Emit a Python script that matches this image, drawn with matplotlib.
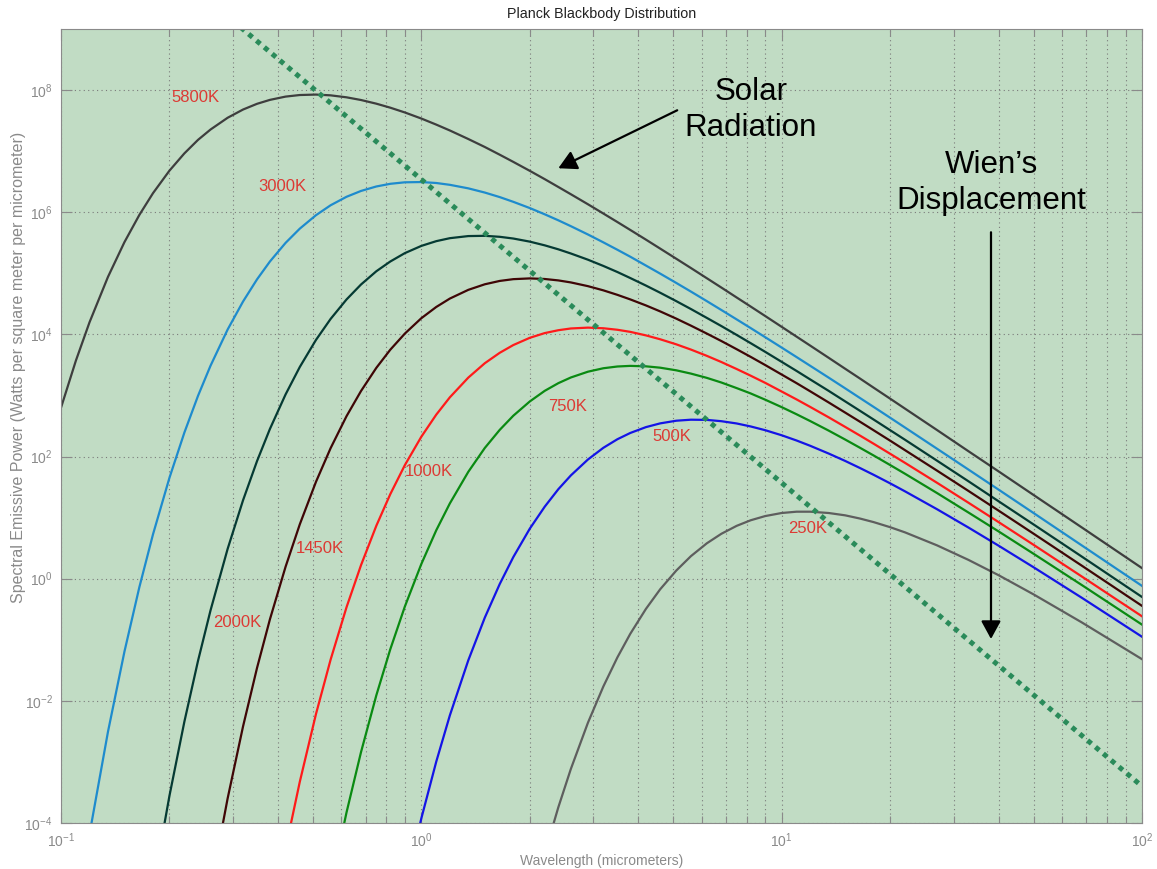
import numpy as np
import matplotlib
matplotlib.use('Agg')
import matplotlib.pyplot as plt

plt.rcParams['font.family'] = ['Liberation Sans', 'DejaVu Sans']
plt.rcParams['mathtext.default'] = 'regular'

# wavelength grid (micrometers)
wavelength = [0.10, 0.11, 0.12, 0.135, 0.15, 0.165, 0.18, 0.20, 0.22, 0.24,
              0.26, 0.29, 0.32, 0.35, 0.38, 0.42, 0.46, 0.51, 0.56, 0.62,
              0.68, 0.75, 0.82, 0.9, 1.0, 1.1, 1.2, 1.35, 1.5, 1.65,
              1.8, 2.0, 2.2, 2.4, 2.6, 2.9, 3.2, 3.5, 3.8, 4.2,
              4.6, 5.1, 5.6, 6.2, 6.8, 7.5, 8.2, 9.0, 10, 11,
              12, 13.5, 15, 16.5, 18, 20, 22, 27, 33, 40,
              50, 68, 100]

nan = np.nan
# spectral emissive power (W / m^2 / um)
power_5800 = [630, 3.73e3, 1.58e4, 8.73e4, 3.24e5, 9.04e5, 2.05e6, 4.80e6, 9.20e6, 1.53e7,
              2.26e7, 3.52e7, 4.80e7, 5.96e7, 6.91e7, 7.82e7, 8.30e7, 8.44e7, 8.20e7, 7.61e7,
              6.88e7, 5.99e7, 5.15e7, 4.30e7, 3.42e7, 2.72e7, 2.18e7, 1.58e7, 1.17e7, 8.75e6,
              6.67e6, 4.76e6, 3.48e6, 2.59e6, 1.97e6, 1.35e6, 9.52e5, 6.91e5, 5.13e5, 3.56e5,
              2.54e5, 1.73e5, 1.22e5, 8.30e4, 5.85e4, 4.02e4, 2.86e4, 2.00e4, 1.33e4, 9.18e3,
              6.55e3, 4.14e3, 2.74e3, 1.89e3, 1.34e3, 886, 608, 271, 122, 57.1,
              23.5, 6.93, 1.49]
power_3000 = [nan, nan, 6.6e-5, 3.11e-3, 6.41e-2, 0.728, 5.31, 45.0, 247, 985,
              3.07e3, 1.20e4, 3.45e4, 7.97e4, 1.56e5, 3.15e5, 5.39e5, 8.94e5, 1.30e6, 1.79e6,
              2.23e6, 2.64e6, 2.92e6, 3.09e6, 3.12e6, 3.01e6, 2.81e6, 2.46e6, 2.10e6, 1.77e6,
              1.48e6, 1.17e6, 9.25e5, 7.37e5, 5.91e5, 4.32e5, 3.21e5, 2.43e5, 1.87e5, 1.34e5,
              9.89e4, 6.95e4, 5.02e4, 3.50e4, 2.51e4, 1.76e4, 1.27e4, 9.00e3, 6.08e3, 4.25e3,
              3.06e3, 1.96e3, 1.31e3, 907, 649, 432, 298, 134, 61.1, 28.7,
              11.9, 3.52, 0.762]
power_2000 = [nan, nan, nan, nan, nan, nan, 8.7e-6, 2.80e-4, 4.57e-3, 4.51e-2,
              0.303, 3.07, 19.2, 84.4, 283, 1.04e3, 2.93e3, 8.11e3, 1.79e4, 3.73e4,
              6.55e4, 1.08e5, 1.56e5, 2.14e5, 2.81e5, 3.36e5, 3.76e5, 4.07e5, 4.11e5, 3.96e5,
              3.71e5, 3.30e5, 2.87e5, 2.47e5, 2.11e5, 1.67e5, 1.32e5, 1.05e5, 8.37e4, 6.30e4,
              4.81e4, 3.50e4, 2.60e4, 1.86e4, 1.37e4, 9.80e3, 7.19e3, 5.18e3, 3.55e3, 2.52e3,
              1.83e3, 1.19e3, 801, 560, 403, 270, 188, 85.4, 39.3, 18.5,
              7.74, 2.31, 0.502]
power_1450 = [nan, nan, nan, nan, nan, nan, nan, nan, nan, nan,
              8.4e-6, 2.52e-4, 3.80e-3, 3.47e-2, 0.216, 1.57, 7.78, 38.5, 137, 458,
              1.18e3, 2.83e3, 5.61e3, 1.03e4, 1.84e4, 2.81e4, 3.86e4, 5.36e4, 6.61e4, 7.50e4,
              8.02e4, 8.25e4, 8.07e4, 7.65e4, 7.09e4, 6.16e4, 5.26e4, 4.44e4, 3.74e4, 2.98e4,
              2.38e4, 1.81e4, 1.39e4, 1.03e4, 7.79e3, 5.72e3, 4.29e3, 3.15e3, 2.20e3, 1.59e3,
              1.17e3, 769, 525, 371, 269, 182, 127, 58.7, 27.3, 13.0,
              5.46, 1.64, 0.359]
power_1000 = [nan, nan, nan, nan, nan, nan, nan, nan, nan, nan,
              nan, nan, nan, nan, nan, 3.80e-5, 4.74e-4, 6.07e-3, 4.72e-2, 0.341,
              1.66, 7.35, 24.2, 72.3, 211, 485, 933, 1.96e3, 3.37e3, 4.99e3,
              6.69e3, 8.79e3, 1.05e4, 1.17e4, 1.25e4, 1.29e4, 1.26e4, 1.19e4, 1.10e4, 9.63e3,
              8.32e3, 6.87e3, 5.64e3, 4.45e3, 3.53e3, 2.71e3, 2.11e3, 1.61e3, 1.16e3, 861,
              649, 439, 306, 220, 162, 111, 78.7, 37.1, 17.5, 8.44,
              3.59, 1.09, 0.242]
power_750 = [nan, nan, nan, nan, nan, nan, nan, nan, nan, nan,
             nan, nan, nan, nan, nan, nan, nan, nan, 9.0e-6, 1.49e-4,
             1.44e-3, 1.23e-2, 6.98e-2, 0.350, 1.74, 6.20, 17.1, 56.2, 138, 273,
             466, 798, 1.19e3, 1.59e3, 1.97e3, 2.45e3, 2.79e3, 2.98e3, 3.05e3, 3.00e3,
             2.85e3, 2.58e3, 2.28e3, 1.94e3, 1.63e3, 1.32e3, 1.08e3, 853, 644, 492,
             381, 266, 190, 139, 104, 72.6, 52.2, 25.2, 12.1, 5.94,
             2.56, 0.790, 0.177]
power_500 = [nan, nan, nan, nan, nan, nan, nan, nan, nan, nan,
             nan, nan, nan, nan, nan, nan, nan, nan, nan, nan,
             nan, nan, nan, 8.2e-6, 1.19e-4, 1.01e-3, 5.79e-3, 4.61e-2, 0.230, 0.816,
             2.26, 6.60, 15.1, 29.2, 49.1, 89.5, 139, 192, 243, 303,
             349, 386, 401, 398, 379, 348, 311, 270, 223, 183,
             150, 112, 84.8, 64.8, 50.2, 36.4, 26.9, 13.7, 6.87, 3.47,
             1.54, 0.489, 0.112]
power_250 = [nan, nan, nan, nan, nan, nan, nan, nan, nan, nan,
             nan, nan, nan, nan, nan, nan, nan, nan, nan, nan,
             nan, nan, nan, nan, nan, nan, nan, nan, nan, nan,
             nan, nan, 3.16e-5, 1.81e-4, 7.68e-4, 4.39e-3, 1.72e-2, 5.14e-2, 0.125, 0.320,
             0.670, 1.36, 2.34, 3.80, 5.43, 7.33, 9.04, 10.6, 11.9, 12.5,
             12.5, 11.9, 10.9, 9.65, 8.44, 6.97, 5.73, 3.51, 2.03, 1.14,
             0.554, 0.193, 0.0481]

# Wien's displacement line (through the peaks)
wien_wavelength = [0.3, 100]
wien_power = [1.36e9, 4.0e-4]

# curve labels and where they sit
label_names = ['5800K', '3000K', '2000K', '1450K', '1000K', '750K', '500K', '250K']
label_x = [0.203, 0.352, 0.264, 0.449, 0.90, 2.25, 4.37, 10.4]
label_y = [7.6e7, 2.66e6, 0.195, 3.17, 57.7, 668, 216, 6.73]

x_ticks = [0.1, 1, 10, 100]
x_tick_labels = ['$10^{-1}$', '$10^{0}$', '$10^{1}$', '$10^{2}$']
y_ticks = [1e-4, 1e-2, 1, 1e2, 1e4, 1e6, 1e8]
y_tick_labels = ['$10^{-4}$', '$10^{-2}$', '$10^{0}$', '$10^{2}$', '$10^{4}$', '$10^{6}$', '$10^{8}$']

curves = [
    (power_5800, '#3e3e3e'),
    (power_3000, '#1e8bcd'),
    (power_2000, '#053a33'),
    (power_1450, '#3f0606'),
    (power_1000, '#ff1a1a'),
    (power_750, '#0a8a12'),
    (power_500, '#1414e6'),
    (power_250, '#5e5e5e'),
]

fig = plt.figure(figsize=(11.57, 8.69), dpi=100)
ax = fig.add_axes([61 / 1157, 1 - 823 / 869, 1081 / 1157, 794 / 869])
ax.set_facecolor('#c1dcc4')

for values, color in curves:
    ax.plot(wavelength, values, color=color, lw=1.6)

ax.plot(wien_wavelength, wien_power, color='#2a8b5a', lw=3.6,
        linestyle=(0, (1, 1.05)), dash_capstyle='butt')

for name, x, y in zip(label_names, label_x, label_y):
    ax.text(x, y, name, color='#dc3a34', fontsize=12, ha='left', va='center')

ax.set_xscale('log')
ax.set_yscale('log')
ax.set_xlim(0.1, 100)
ax.set_ylim(1e-4, 1e9)

ax.set_xticks(x_ticks, x_tick_labels)
ax.set_yticks(y_ticks, y_tick_labels)
ax.xaxis.set_minor_locator(matplotlib.ticker.LogLocator(base=10, subs=range(2, 10)))
ax.xaxis.set_minor_formatter(matplotlib.ticker.NullFormatter())
ax.yaxis.set_minor_locator(matplotlib.ticker.NullLocator())

ax.tick_params(which='both', direction='in', top=True, right=True, colors='#8a8a8a',
               labelsize=10)
ax.tick_params(which='major', length=7.7, width=0.8)
ax.tick_params(which='minor', length=4.8, width=0.8)
ax.tick_params(axis='x', pad=6)
ax.tick_params(axis='y', pad=6)
for spine in ax.spines.values():
    spine.set_color('#8a8a8a')

ax.grid(True, which='major', color='#7a7a7a', linestyle=(0, (1, 3)), lw=0.8)
ax.grid(True, which='minor', axis='x', color='#7a7a7a', linestyle=(0, (1, 3)), lw=0.8)

ax.set_title('Planck Blackbody Distribution', fontsize=10.3, color='#222222', pad=8)
ax.set_xlabel('Wavelength (micrometers)', fontsize=10, color='#8a8a8a', labelpad=3)
fig.text(19 / 1157, 1 - 367 / 869,
         'Spectral Emissive Power (Watts per square meter per micrometer)',
         rotation=90, ha='center', va='center', fontsize=11.5, color='#8a8a8a')

# annotations
arrow_style = dict(arrowstyle='-|>,head_length=0.55,head_width=0.3',
                   color='black', lw=1.6, mutation_scale=20, shrinkA=0, shrinkB=0)
ax.text(8.22, 4.67e7, 'Solar\nRadiation', fontsize=22.5, ha='center', va='center',
        linespacing=1.25)
ax.annotate('', xy=(2.40, 5.25e6), xytext=(5.13, 4.67e7), arrowprops=arrow_style)
ax.text(38.1, 2.99e6, 'Wien\u2019s\nDisplacement', fontsize=22.5, ha='center', va='center',
        linespacing=1.25)
ax.annotate('', xy=(38.1, 0.103), xytext=(38.1, 4.7e5), arrowprops=arrow_style)

fig.savefig('out.png', dpi=100)
